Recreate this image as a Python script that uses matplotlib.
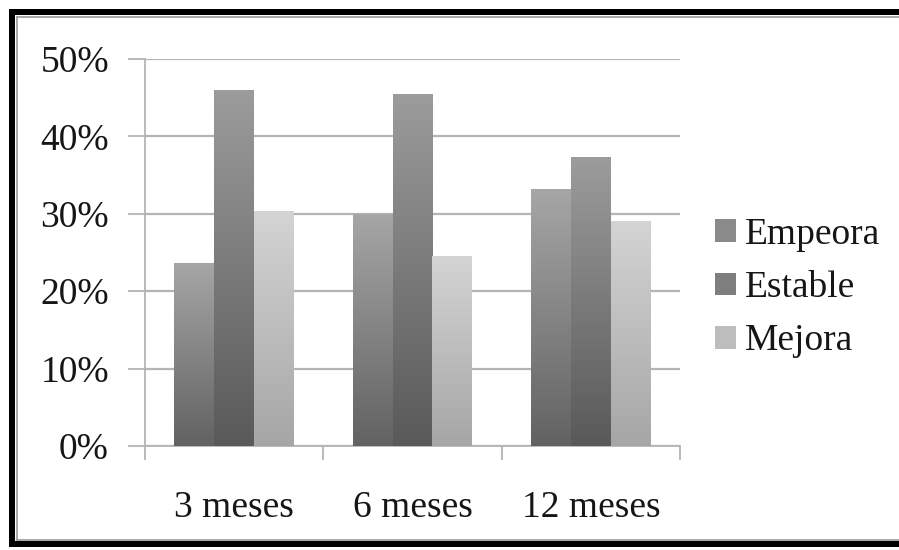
import numpy as np
import matplotlib
matplotlib.use("Agg")
import matplotlib.pyplot as plt
from matplotlib.colors import LinearSegmentedColormap
from matplotlib.patches import Patch
from matplotlib.lines import Line2D
from matplotlib.ticker import FixedLocator, FuncFormatter

categories = ["3 meses", "6 meses", "12 meses"]
series_names = ["Empeora", "Estable", "Mejora"]
empeora = [0.237, 0.300, 0.332]
estable = [0.460, 0.455, 0.373]
mejora = [0.303, 0.246, 0.291]
yticks = [0.0, 0.1, 0.2, 0.3, 0.4, 0.5]

series_values = [empeora, estable, mejora]
top_colors = ["#a6a6a6", "#9c9c9c", "#d4d4d4"]
bottom_colors = ["#626262", "#595959", "#a6a6a6"]
legend_colors = ["#8a8a8a", "#7e7e7e", "#bdbdbd"]

plt.rcParams["font.family"] = ["Liberation Serif", "DejaVu Serif"]

W, H = 899, 550
fig = plt.figure(figsize=(W / 100, H / 100), dpi=100)
ax = fig.add_axes([145 / W, 1 - 446 / H, (680 - 145) / W, (446 - 59) / H])

x = np.arange(len(categories))
bw = 0.224
grad = np.linspace(0, 1, 256).reshape(-1, 1)
for i, (vals, name) in enumerate(zip(series_values, series_names)):
    bars = ax.bar(x + (i - 1) * bw, vals, bw, color="none", edgecolor="none",
                  label=name, zorder=3)
    cmap = LinearSegmentedColormap.from_list(name, [bottom_colors[i], top_colors[i]])
    for b in bars:
        x0, y0 = b.get_x(), b.get_y()
        w, h = b.get_width(), b.get_height()
        im = ax.imshow(grad, extent=[x0, x0 + w, y0, y0 + h], origin="lower",
                       cmap=cmap, aspect="auto", zorder=3, interpolation="bilinear")
        im.set_clip_path(b)

ax.set_xlim(-0.5, 2.5)
ax.set_ylim(0, 0.5)

ax.set_yticks(yticks)
ax.yaxis.set_major_formatter(FuncFormatter(lambda v, p: f"{v*100:.0f}%"))
ax.yaxis.grid(True, color="#b4b4b4", linewidth=1.6, zorder=1)
ax.set_axisbelow(True)
ax.tick_params(axis="y", length=12, width=1.3, color="#b4b4b4", pad=14,
               labelsize=27, labelcolor="#161616")

ax.set_xticks(x)
ax.set_xticklabels(categories)
ax.xaxis.set_minor_locator(FixedLocator([-0.5, 0.5, 1.5, 2.5]))
ax.tick_params(axis="x", which="major", length=0, pad=32, labelsize=27,
               labelcolor="#161616")
ax.tick_params(axis="x", which="minor", length=10, width=1.3, color="#b4b4b4")

for s in ["top", "right"]:
    ax.spines[s].set_visible(False)
for s in ["left", "bottom"]:
    ax.spines[s].set_color("#b4b4b4")
    ax.spines[s].set_linewidth(1.3)

handles = [Patch(facecolor=c, edgecolor="none") for c in legend_colors]
fig.legend(handles, series_names, loc="center left",
           bbox_to_anchor=(715 / W, 1 - 288 / H), frameon=False, fontsize=27,
           handlelength=0.55, handleheight=0.55, handletextpad=0.25,
           labelspacing=0.5, borderpad=0, borderaxespad=0, labelcolor="#161616")

# outer frame
def px(xp, yp):
    return xp / W, 1 - yp / H

lw_black = 6 * 72 / 100
for (xa, ya), (xb, yb) in [((12, 9), (12, 547)), ((9, 12), (905, 12)), ((9, 544), (905, 544))]:
    (fx0, fy0), (fx1, fy1) = px(xa, ya), px(xb, yb)
    fig.add_artist(Line2D([fx0, fx1], [fy0, fy1], color="black", linewidth=lw_black,
                          transform=fig.transFigure, solid_capstyle="butt"))
for (xa, ya), (xb, yb) in [((16.5, 16.5), (16.5, 540)), ((16.5, 16.5), (905, 16.5)), ((16.5, 540), (905, 540))]:
    (fx0, fy0), (fx1, fy1) = px(xa, ya), px(xb, yb)
    fig.add_artist(Line2D([fx0, fx1], [fy0, fy1], color="#9a9a9a", linewidth=1.2,
                          transform=fig.transFigure))

fig.savefig("out.png", dpi=100)
